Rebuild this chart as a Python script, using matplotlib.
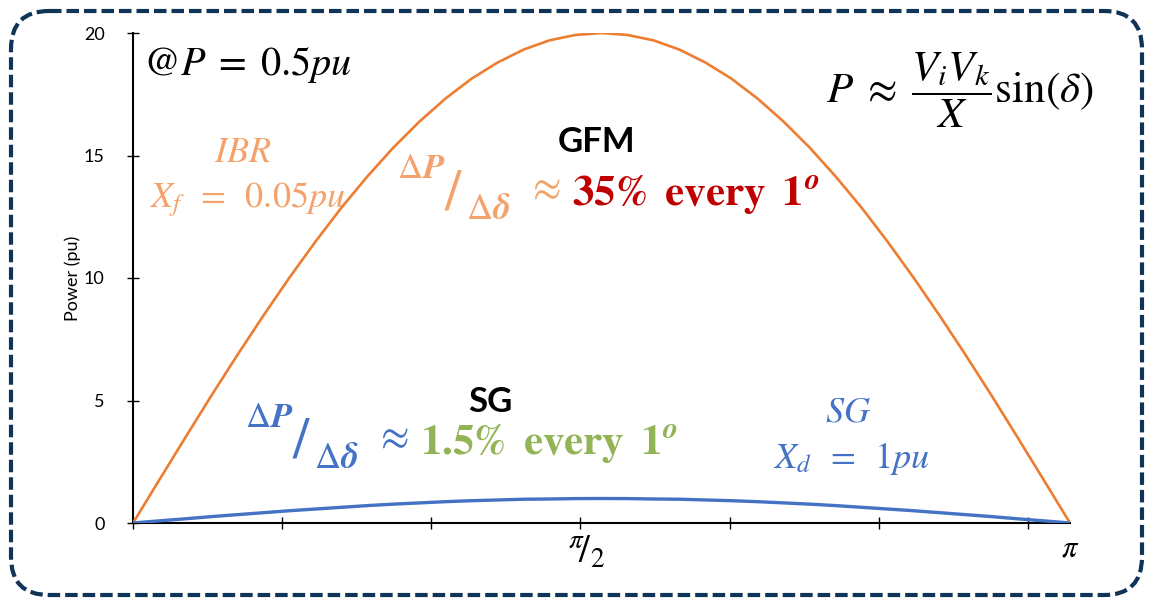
import numpy as np
import matplotlib
matplotlib.use("Agg")
import matplotlib.pyplot as plt
from matplotlib.patches import FancyBboxPatch

plt.rcParams['mathtext.fontset'] = 'stix'
plt.rcParams['font.family'] = ['Lato', 'DejaVu Sans']

# load angle (deg) and power
angle_deg = [0, 5, 10, 15, 20, 25, 30, 35, 40, 45, 50, 55, 60, 65, 70, 75, 80, 85, 90,
             95, 100, 105, 110, 115, 120, 125, 130, 135, 140, 145, 150, 155, 160, 165, 170, 175, 180]
p_gfm = [0, 1.74, 3.47, 5.18, 6.84, 8.45, 10.0, 11.47, 12.86, 14.14, 15.32, 16.38, 17.32,
         18.13, 18.79, 19.32, 19.70, 19.92, 20.0, 19.92, 19.70, 19.32, 18.79, 18.13, 17.32,
         16.38, 15.32, 14.14, 12.86, 11.47, 10.0, 8.45, 6.84, 5.18, 3.47, 1.74, 0]
p_sg = [0, 0.087, 0.17, 0.26, 0.34, 0.42, 0.50, 0.57, 0.64, 0.71, 0.77, 0.82, 0.87,
        0.91, 0.94, 0.97, 0.98, 0.996, 1.0, 0.996, 0.98, 0.97, 0.94, 0.91, 0.87,
        0.82, 0.77, 0.71, 0.64, 0.57, 0.50, 0.42, 0.34, 0.26, 0.17, 0.087, 0]
xtick_rad = [0, 0.5, 1.0, 1.5, 2.0, 2.5, 3.0]
xtick_labels = ['', '', '', r'$\;\,^{\pi}\!/_{2}$', '', '', '']
ytick_vals = [0, 5, 10, 15, 20]

ORANGE = '#ED7D31'
LORANGE = '#F4A26C'
BLUE = '#4472C4'
RED = '#C00000'
GREEN = '#93B456'
NAVY = '#0F3457'

W, H = 1153, 606
fig = plt.figure(figsize=(W / 100, H / 100), dpi=100)
ax = fig.add_axes([133 / W, 1 - 523 / H, (1070 - 133) / W, (523 - 33) / H])

delta = np.radians(angle_deg)
ax.plot(delta, p_gfm, color=ORANGE, lw=1.9, zorder=3)
ax.plot(delta, p_sg, color=BLUE, lw=2.4, zorder=3)

ax.set_xlim(0, np.pi)
ax.set_ylim(0, 20)
ax.set_yticks(ytick_vals)
ax.set_xticks(xtick_rad)
ax.set_xticklabels(xtick_labels, fontsize=28)
ax.tick_params(axis='both', direction='inout', length=9, width=1, colors='black')
ax.tick_params(axis='y', labelsize=13, pad=16)
ax.tick_params(axis='x', pad=3)
for s in ['top', 'right']:
    ax.spines[s].set_visible(False)
for s in ['left', 'bottom']:
    ax.spines[s].set_linewidth(1.5)
ax.text(np.pi, -0.05, r'$\pi$', transform=ax.get_xaxis_transform(),
        ha='center', va='center', fontsize=22)
ax.set_ylabel('Power (pu)', fontsize=13, labelpad=2)
ax.patch.set_alpha(0)

# overlay in pixel coordinates for the frame and annotations
ov = fig.add_axes([0, 0, 1, 1], zorder=5)
ov.set_xlim(0, W)
ov.set_ylim(H, 0)
ov.axis('off')
ov.patch.set_alpha(0)
ov.add_patch(FancyBboxPatch((11, 11), W - 22, H - 22,
                            boxstyle='round,pad=0,rounding_size=38',
                            fill=False, ec=NAVY, lw=3, linestyle=(0, (3, 1.2))))

ov.text(143, 75, r'$@P\;=\;0.5pu$', fontsize=29, ha='left', va='baseline')
ov.text(960, 90, r'$P\;\approx\;\dfrac{V_iV_k}{X}\mathrm{sin}(\delta)$', fontsize=31,
        ha='center', va='center')

ov.text(243, 162, r'$IBR$', fontsize=26, color=LORANGE, ha='center', va='baseline')
ov.text(247, 207, r'$X_f\;\;=\;\;0.05pu$', fontsize=26, color=LORANGE, ha='center', va='baseline')

ov.text(848, 422, r'$SG$', fontsize=26, color=BLUE, ha='center', va='baseline')
ov.text(851, 468, r'$X_d\;\;=\;\;1pu$', fontsize=26, color=BLUE, ha='center', va='baseline')

ov.text(597, 152, 'GFM', fontsize=25, fontweight='bold', ha='center', va='baseline')
ov.text(490, 412, 'SG', fontsize=25, fontweight='bold', ha='center', va='baseline')


def slope_label(x0, y0, col_frac, col_val, value):
    ov.text(x0, y0, r'$\Delta\mathbfit{P}$', fontsize=25, color=col_frac,
            ha='left', va='baseline')
    ov.text(x0 + 47, y0 + 31, r'$/$', fontsize=42, color=col_frac,
            ha='left', va='baseline')
    ov.text(x0 + 69, y0 + 41, r'$\Delta\mathbfit{\delta}$', fontsize=26, color=col_frac,
            ha='left', va='baseline')
    ov.text(x0 + 129, y0 + 10, r'$\approx$', fontsize=30, color=col_frac,
            ha='left', va='center')
    ov.text(x0 + 175, y0 + 27, r'$\mathbf{' + value + r'\%\;\;every\;\;1}^{\mathbfit{o}}$',
            fontsize=31, color=col_val, ha='left', va='baseline')


slope_label(397, 178, LORANGE, RED, '35')
slope_label(245, 427, BLUE, GREEN, '1.5')

fig.savefig('out.png', dpi=100)
